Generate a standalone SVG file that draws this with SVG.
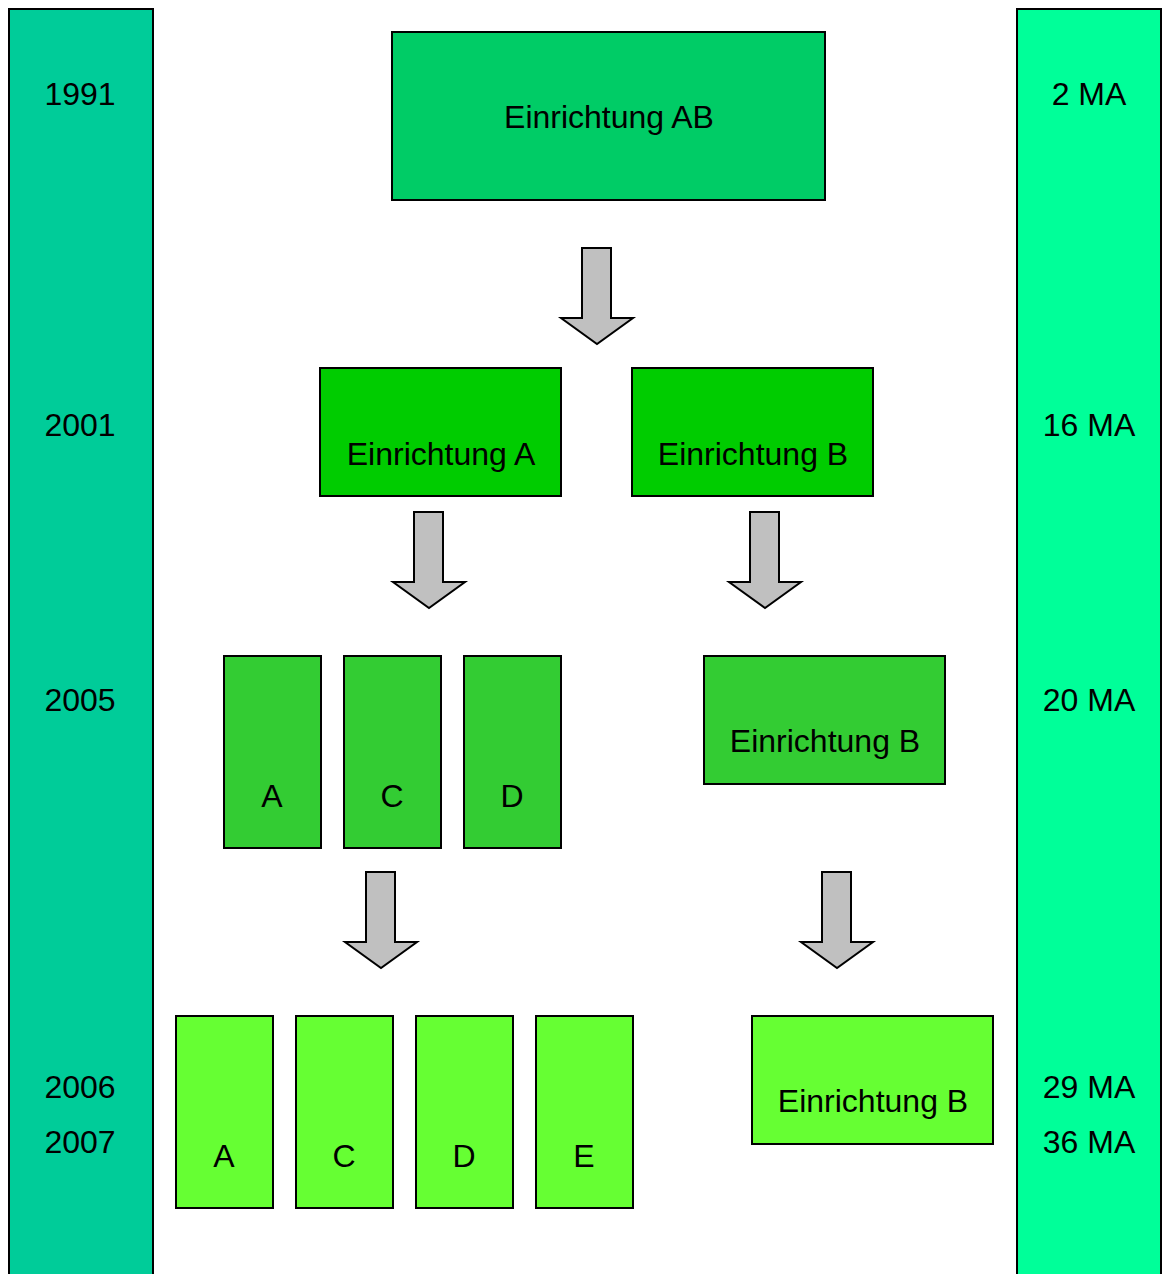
<svg xmlns="http://www.w3.org/2000/svg" width="1162" height="1274" viewBox="0 0 1162 1274">
<style>
.b{stroke:#000;stroke-width:2}
.t{font-family:"Liberation Sans",Arial,sans-serif;font-size:32px;fill:#000;text-anchor:middle}
.ar{fill:#C0C0C0;stroke:#000;stroke-width:2;stroke-linejoin:miter}
</style>
<rect width="1162" height="1274" fill="#fff"/>
<g id="years">
<rect class="b" x="9" y="9" width="144" height="1280" fill="#00CC99"/>
<text class="t" x="80" y="105">1991</text>
<text class="t" x="80" y="436">2001</text>
<text class="t" x="80" y="711">2005</text>
<text class="t" x="80" y="1098">2006</text>
<text class="t" x="80" y="1153">2007</text>
</g>
<g id="staff">
<rect class="b" x="1017" y="9" width="144" height="1280" fill="#00FF99"/>
<text class="t" x="1089" y="105">2 MA</text>
<text class="t" x="1089" y="436">16 MA</text>
<text class="t" x="1089" y="711">20 MA</text>
<text class="t" x="1089" y="1098">29 MA</text>
<text class="t" x="1089" y="1153">36 MA</text>
</g>
<g id="n-ab"><rect class="b" x="392" y="32" width="433" height="168" fill="#00CC66"/><text class="t" x="609" y="128">Einrichtung AB</text></g>
<g id="n-a"><rect class="b" x="320" y="368" width="241" height="128" fill="#00CC00"/><text class="t" x="441" y="465">Einrichtung A</text></g>
<g id="n-b"><rect class="b" x="632" y="368" width="241" height="128" fill="#00CC00"/><text class="t" x="753" y="465">Einrichtung B</text></g>
<g id="n-a2"><rect class="b" x="224" y="656" width="97" height="192" fill="#33CC33"/><text class="t" x="272" y="807">A</text></g>
<g id="n-c2"><rect class="b" x="344" y="656" width="97" height="192" fill="#33CC33"/><text class="t" x="392" y="807">C</text></g>
<g id="n-d2"><rect class="b" x="464" y="656" width="97" height="192" fill="#33CC33"/><text class="t" x="512" y="807">D</text></g>
<g id="n-b2"><rect class="b" x="704" y="656" width="241" height="128" fill="#33CC33"/><text class="t" x="825" y="752">Einrichtung B</text></g>
<g id="n-a3"><rect class="b" x="176" y="1016" width="97" height="192" fill="#66FF33"/><text class="t" x="224" y="1167">A</text></g>
<g id="n-c3"><rect class="b" x="296" y="1016" width="97" height="192" fill="#66FF33"/><text class="t" x="344" y="1167">C</text></g>
<g id="n-d3"><rect class="b" x="416" y="1016" width="97" height="192" fill="#66FF33"/><text class="t" x="464" y="1167">D</text></g>
<g id="n-e3"><rect class="b" x="536" y="1016" width="97" height="192" fill="#66FF33"/><text class="t" x="584" y="1167">E</text></g>
<g id="n-b3"><rect class="b" x="752" y="1016" width="241" height="128" fill="#66FF33"/><text class="t" x="873" y="1112">Einrichtung B</text></g>
<g id="connectors">
<path class="ar" d="M582,248 H611 V318 H633 L597,344 L561,318 H582 Z"/>
<path class="ar" d="M414,512 H443 V582 H465 L429,608 L393,582 H414 Z"/>
<path class="ar" d="M750,512 H779 V582 H801 L765,608 L729,582 H750 Z"/>
<path class="ar" d="M366,872 H395 V942 H417 L381,968 L345,942 H366 Z"/>
<path class="ar" d="M822,872 H851 V942 H873 L837,968 L801,942 H822 Z"/>
</g>
</svg>
